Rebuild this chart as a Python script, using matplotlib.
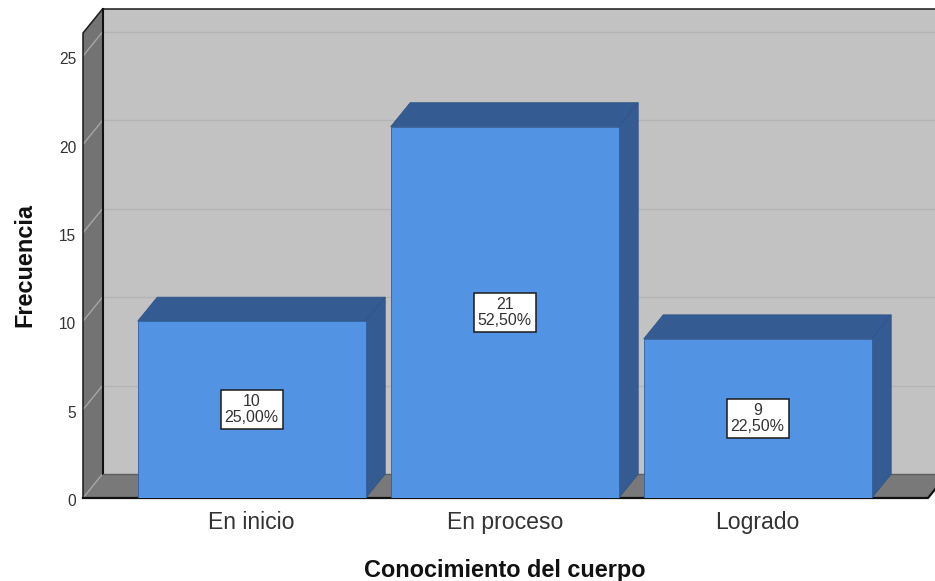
import matplotlib
matplotlib.use('Agg')
import matplotlib.pyplot as plt
from matplotlib.patches import Polygon
from matplotlib.transforms import ScaledTranslation

plt.rcParams['font.family'] = ['Liberation Sans', 'DejaVu Sans']

categories = ['En inicio', 'En proceso', 'Logrado']
counts = [10, 21, 9]
percents = ['25,00%', '52,50%', '22,50%']
y_ticks = [0, 5, 10, 15, 20, 25]

W, H = 935, 581
DPI = 100
PX_X = 253.0      # pixels per category
PX_Y = 17.68      # pixels per count
X_ORIGIN = 251.7  # pixel of the first category
LEFT, BOTTOM, TOP = 83, 498, 9
bar_w = 228 / PX_X
depth_x = 19.5 / PX_X
depth_y = 24 / PX_Y
ymax = (BOTTOM - 24 - TOP) / PX_Y

BLUE = '#5294E3'
BLUE_DARK = '#345C92'
WALL = '#C2C2C2'
SIDE = '#737373'
FLOOR = '#797979'

fig = plt.figure(figsize=(W / DPI, H / DPI), dpi=DPI)
ax = fig.add_axes([LEFT / W, (H - BOTTOM) / H, (W - LEFT) / W, (BOTTOM - 0) / H])
ax.set_xlim((LEFT - X_ORIGIN) / PX_X, (W - X_ORIGIN) / PX_X)
ax.set_ylim(0, BOTTOM / PX_Y)
ax.patch.set_visible(False)
for s in ax.spines.values():
    s.set_visible(False)

x0 = (LEFT - X_ORIGIN) / PX_X
x1 = (928 - X_ORIGIN) / PX_X


def poly(pts, fc, ec='none', lw=0, z=1):
    ax.add_patch(Polygon(pts, closed=True, fc=fc, ec=ec, lw=lw, zorder=z, clip_on=False))


# back wall, left wall, floor
poly([(x0 + depth_x, depth_y), (x1 + depth_x, depth_y), (x1 + depth_x, depth_y + ymax), (x0 + depth_x, depth_y + ymax)], WALL)
poly([(x0, 0), (x0 + depth_x, depth_y), (x0 + depth_x, depth_y + ymax), (x0, ymax)], SIDE)
poly([(x0, 0), (x1, 0), (x1 + depth_x, depth_y), (x0 + depth_x, depth_y)], FLOOR)

for v in y_ticks[1:]:
    ax.plot([x0 + depth_x, x1 + depth_x], [v + depth_y, v + depth_y], color='#B4B4B4', lw=1.0, zorder=1.5)
for v in y_ticks:
    ax.plot([x0, x0 + depth_x], [v, v + depth_y], color='#A6A6A6', lw=1.0, zorder=1.5)

# frame
ax.plot([x0, x0, x0 + depth_x, x1 + depth_x], [0, ymax, ymax + depth_y, ymax + depth_y], color='#1A1A1A', lw=1.1, zorder=2, clip_on=False)
ax.plot([x0 + depth_x, x0 + depth_x], [depth_y, ymax + depth_y], color='#111111', lw=1.5, zorder=2)
ax.plot([x0 + depth_x, x1 + depth_x], [depth_y, depth_y], color='#5F5F5F', lw=1.0, zorder=2)
ax.plot([x0, x1, x1 + depth_x], [0, 0, depth_y], color='#111111', lw=1.6, zorder=2, clip_on=False)

xs = list(range(len(categories)))
ax.bar(xs, counts, width=bar_w, color=BLUE, edgecolor='#2F5F9E', linewidth=0.6, zorder=4)
for x, c in zip(xs, counts):
    l, r = x - bar_w / 2, x + bar_w / 2
    poly([(l, c), (r, c), (r + depth_x, c + depth_y), (l + depth_x, c + depth_y)], BLUE_DARK, '#2F5486', 0.6, 3)
    poly([(r, 0), (r + depth_x, depth_y), (r + depth_x, c + depth_y), (r, c)], BLUE_DARK, '#2F5486', 0.6, 3)

for x, c, p in zip(xs, counts, percents):
    ax.text(x, c / 2, f'{c}\n{p}', ha='center', va='center', fontsize=11.5, color='#333333', linespacing=1.08, zorder=6,
            bbox=dict(boxstyle='square,pad=0.24', fc='white', ec='#1A1A1A', lw=1.1))

ax.set_xticks(xs)
ax.set_xticklabels(categories, fontsize=16.6, color='#333333')
ax.set_yticks(y_ticks)
ax.tick_params(axis='x', length=0, pad=9.5)
ax.tick_params(axis='y', length=0, pad=5, labelsize=11.2, labelcolor='#333333')
for lab in ax.get_yticklabels():
    lab.set_transform(lab.get_transform() + ScaledTranslation(0, -1.6 / 72, fig.dpi_scale_trans))

fig.text(505 / W, 1 - 570 / H, 'Conocimiento del cuerpo', ha='center', va='center', fontsize=16.9, fontweight='bold', color='#111111')
fig.text(25 / W, 1 - 265 / H, 'Frecuencia', rotation=90, ha='center', va='center', fontsize=16.9, fontweight='bold', color='#111111')

fig.savefig('out.png', dpi=DPI)
